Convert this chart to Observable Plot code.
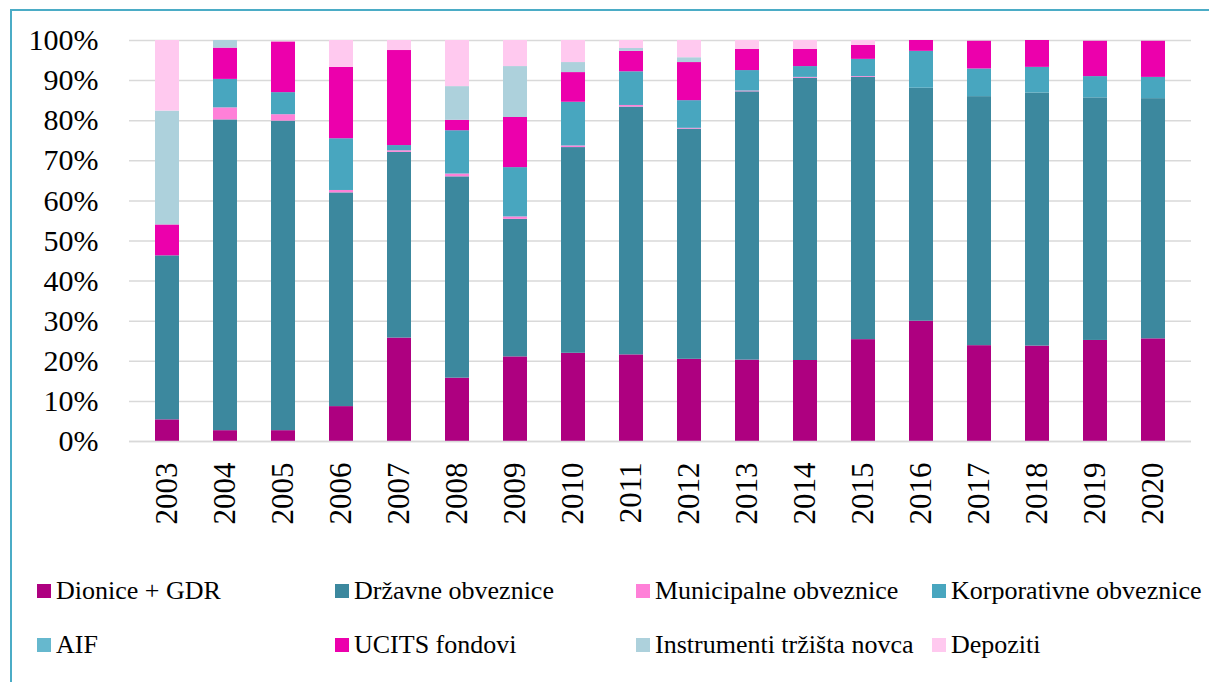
<!DOCTYPE html>
<html>
<head>
<meta charset="utf-8">
<script src="https://cdn.jsdelivr.net/npm/d3@7"></script>
<script src="https://cdn.jsdelivr.net/npm/@observablehq/plot@0.6"></script>
<style>
  html, body { margin: 0; padding: 0; background: #fff; }
  #wrap { position: relative; width: 1209px; height: 682px; overflow: hidden; font-family: 'Liberation Serif', serif; }
  #frame { position: absolute; left: 10px; top: 9px; width: 1300px; height: 800px; border-left: 2px solid #4BACC6; border-top: 2px solid #4BACC6; box-sizing: border-box; }
  #chart { position: absolute; left: 0; top: 0; }
  .leg { position: absolute; display: flex; align-items: center; font-size: 26px; color: #000; white-space: nowrap; line-height: 1; font-family: 'Liberation Serif', serif; }
  .leg span.sw { display: inline-block; width: 14px; height: 14px; margin-right: 5px; }
</style>
</head>
<body>
<div id="wrap">
  <div id="frame"></div>
  <div id="chart"></div>
  <div id="legend"></div>
</div>
<script>
const years = ["2003","2004","2005","2006","2007","2008","2009","2010","2011","2012","2013","2014","2015","2016","2017","2018","2019","2020"];
const seriesNames = ["Dionice + GDR","Državne obveznice","Municipalne obveznice","Korporativne obveznice","AIF","UCITS fondovi","Instrumenti tržišta novca","Depoziti"];
const seriesColors = ["#AE0080","#3C889E","#FF80D8","#48A6BF","#66B8CE","#EC00AC","#ADD1DC","#FFC9EF"];

const dionice      = [5.4, 2.7, 2.7, 8.7, 25.8, 15.8, 21.1, 22.0, 21.6, 20.5, 20.3, 20.2, 25.4, 30.0, 23.9, 23.8, 25.2, 25.6];
const drzavne      = [40.9, 77.5, 77.2, 53.3, 46.3, 50.2, 34.3, 51.3, 61.8, 57.4, 66.9, 70.4, 65.4, 58.1, 62.1, 63.1, 60.5, 59.9];
const municipalne  = [0, 3.0, 1.6, 0.6, 0.4, 0.7, 0.6, 0.4, 0.4, 0.2, 0.2, 0.2, 0.2, 0, 0, 0, 0, 0];
const korporativne = [0, 7.1, 5.5, 12.9, 1.3, 10.8, 12.3, 10.9, 8.4, 6.9, 5.1, 2.7, 4.3, 9.2, 6.9, 6.4, 5.3, 5.3];
const aif          = [0, 0, 0, 0, 0, 0, 0, 0, 0, 0, 0, 0, 0, 0, 0, 0, 0, 0];
const ucits        = [7.7, 7.8, 12.6, 17.8, 23.7, 2.6, 12.5, 7.4, 5.1, 9.5, 5.3, 4.3, 3.5, 2.7, 6.9, 6.7, 8.8, 9.0];
const instrumenti  = [28.4, 1.9, 0, 0, 0, 8.4, 12.7, 2.5, 0.7, 1.2, 0, 0, 0, 0, 0, 0, 0, 0];
const depoziti     = [17.6, 0, 0, 6.7, 2.5, 11.5, 6.5, 5.5, 2.0, 4.3, 2.2, 2.2, 1.2, 0, 0, 0, 0, 0];
const yTicks = [0,10,20,30,40,50,60,70,80,90,100];

const seriesValues = [dionice, drzavne, municipalne, korporativne, aif, ucits, instrumenti, depoziti];
const data = [];
years.forEach((yr, i) => {
  seriesNames.forEach((s, j) => {
    data.push({year: yr, series: s, value: seriesValues[j][i]});
  });
});

const font = "'Liberation Serif', serif";
const chart = Plot.plot({
  width: 1209,
  height: 560,
  marginLeft: 129,
  marginRight: 18,
  marginTop: 40,
  marginBottom: 119,
  style: {fontFamily: font, background: "transparent", overflow: "visible"},
  x: {domain: years, paddingInner: 0.59, paddingOuter: 0.3, label: null},
  y: {domain: [0, 100], label: null},
  color: {domain: seriesNames, range: seriesColors},
  marks: [
    Plot.gridY(yTicks, {stroke: "#D9D9D9", strokeOpacity: 1, strokeWidth: 1.5}),
    Plot.barY(data, Plot.stackY({order: null}, {x: "year", y: "value", fill: "series"})),
    Plot.ruleY([0], {stroke: "#D9D9D9", strokeWidth: 1.5}),
    Plot.axisY(yTicks, {tickSize: 0, tickPadding: 31, fontSize: 30, tickFormat: d => d + "%", fill: "#000", label: null}),
    Plot.axisX({tickSize: 0, tickPadding: 21, tickRotate: -90, fontSize: 31, fill: "#000", label: null})
  ]
});
document.getElementById("chart").appendChild(chart);

// legend
const legendPos = [
  [37, 591], [335, 591], [636, 591], [932, 591],
  [37, 645], [335, 645], [636, 645], [932, 645]
];
const legend = document.getElementById("legend");
seriesNames.forEach((s, i) => {
  const d = document.createElement("div");
  d.className = "leg";
  d.style.left = legendPos[i][0] + "px";
  d.style.top = (legendPos[i][1] - 14) + "px";
  d.style.height = "28px";
  const sw = document.createElement("span");
  sw.className = "sw";
  sw.style.background = seriesColors[i];
  const t = document.createElement("span");
  t.textContent = s;
  d.appendChild(sw);
  d.appendChild(t);
  legend.appendChild(d);
});
</script>
</body>
</html>
